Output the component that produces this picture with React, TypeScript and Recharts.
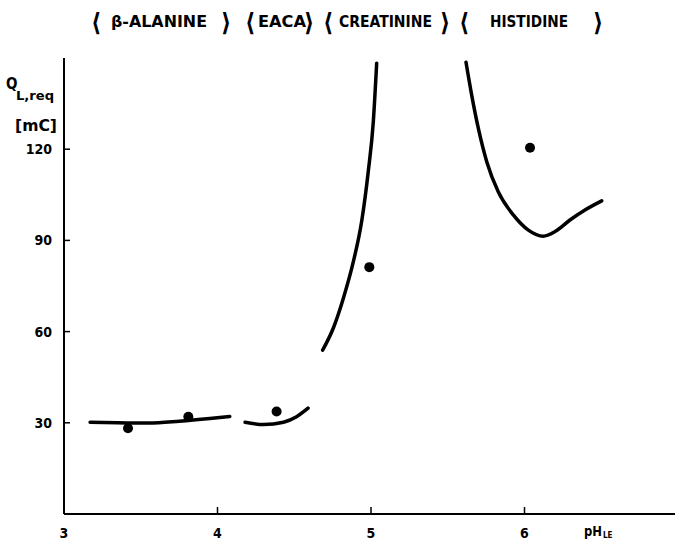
import { ComposedChart, Line, Scatter, XAxis, YAxis } from 'recharts'

const alanine = [
  { ph: 3.17, q: 30.2 },
  { ph: 3.35, q: 30.0 },
  { ph: 3.55, q: 29.9 },
  { ph: 3.75, q: 30.5 },
  { ph: 3.95, q: 31.4 },
  { ph: 4.08, q: 32.1 }
]

const eaca = [
  { ph: 4.18, q: 30.2 },
  { ph: 4.3, q: 29.4 },
  { ph: 4.43, q: 30.2 },
  { ph: 4.515, q: 32.0 },
  { ph: 4.59, q: 34.8 }
]

const creatinine = [
  { ph: 4.685, q: 53.9 },
  { ph: 4.754, q: 61.1 },
  { ph: 4.82, q: 71.0 },
  { ph: 4.885, q: 83.0 },
  { ph: 4.939, q: 96.2 },
  { ph: 4.982, q: 112.6 },
  { ph: 5.015, q: 129.0 },
  { ph: 5.037, q: 148.3 }
]

const histidine = [
  { ph: 5.619, q: 148.6 },
  { ph: 5.656, q: 137.8 },
  { ph: 5.699, q: 126.9 },
  { ph: 5.754, q: 115.9 },
  { ph: 5.829, q: 106.0 },
  { ph: 5.927, q: 98.4 },
  { ph: 6.025, q: 93.4 },
  { ph: 6.122, q: 91.4 },
  { ph: 6.199, q: 92.9 },
  { ph: 6.296, q: 96.7 },
  { ph: 6.394, q: 100.0 },
  { ph: 6.503, q: 103.0 }
]

const measured = [
  { ph: 3.417, q: 28.2 },
  { ph: 3.81, q: 32.0 },
  { ph: 4.385, q: 33.7 },
  { ph: 4.989, q: 81.2 },
  { ph: 6.036, q: 120.5 }
]

const xTicks = [3, 4, 5, 6]
const yTicks = [30, 60, 90, 120]

const font = '"DejaVu Sans Condensed", "DejaVu Sans", sans-serif'

const tickStyle = { fill: '#000', fontSize: 14, fontWeight: 'bold', fontFamily: font }

const curve = (data: { ph: number; q: number }[], key: string) => (
  <Line
    key={key}
    data={data}
    dataKey="q"
    type="monotone"
    stroke="#000"
    strokeWidth={3.5}
    dot={false}
    activeDot={false}
    isAnimationActive={false}
    strokeLinecap="round"
  />
)

function Dot(props: any) {
  return <circle cx={props.cx} cy={props.cy} r={5} fill="#000" />
}

function Bracket({ x, open }: { x: number; open: boolean }) {
  return (
    <text x={x} y={31} fontSize={25} fontWeight="bold">{open ? '⟨' : '⟩'}</text>
  )
}

export default function App() {
  return (
    <div style={{ position: 'absolute', left: 0, top: 0, width: 675, height: 541, overflow: 'hidden', background: '#fff' }}>
      <ComposedChart width={680} height={541} margin={{ top: 58, right: 2, bottom: 0, left: 0 }}>
        <XAxis
          type="number"
          dataKey="ph"
          domain={[3, 7]}
          ticks={xTicks}
          allowDataOverflow
          axisLine={{ stroke: '#000', strokeWidth: 2 }}
          tickLine={{ stroke: '#000', strokeWidth: 1.5 }}
          tickSize={-7}
          tickMargin={21}
          height={27}
          tick={tickStyle}
        />
        <YAxis
          type="number"
          dataKey="q"
          domain={[0, 150]}
          ticks={yTicks}
          allowDataOverflow
          axisLine={{ stroke: '#000', strokeWidth: 2 }}
          tickLine={{ stroke: '#000', strokeWidth: 1.5 }}
          tickSize={-6}
          tickMargin={18}
          width={64}
          tick={tickStyle}
        />
        {curve(alanine, 'ala')}
        {curve(eaca, 'eaca')}
        {curve(creatinine, 'crea')}
        {curve(histidine, 'his')}
        <Scatter data={measured} fill="#000" shape={<Dot />} isAnimationActive={false} />
      </ComposedChart>
      <svg width={675} height={541} style={{ position: 'absolute', left: 0, top: 0, pointerEvents: 'none' }}>
        <g fontFamily={font} fontWeight="bold" fill="#000">
          <Bracket x={91} open />
          <text x={111} y={27} fontSize={15} textLength={96} lengthAdjust="spacingAndGlyphs">β-ALANINE</text>
          <Bracket x={221} open={false} />
          <Bracket x={245} open />
          <text x={258} y={27} fontSize={15} textLength={48} lengthAdjust="spacingAndGlyphs">EACA</text>
          <Bracket x={304} open={false} />
          <Bracket x={323} open />
          <text x={339} y={27} fontSize={15} textLength={93} lengthAdjust="spacingAndGlyphs">CREATININE</text>
          <Bracket x={440} open={false} />
          <Bracket x={459} open />
          <text x={490} y={27} fontSize={15} textLength={78} lengthAdjust="spacingAndGlyphs">HISTIDINE</text>
          <Bracket x={593} open={false} />

          <text x={6} y={89} fontSize={15}>Q</text>
          <text x={16} y={100} fontSize={12} textLength={38} lengthAdjust="spacingAndGlyphs">L,req</text>
          <text x={15} y={131} fontSize={15} textLength={42} lengthAdjust="spacingAndGlyphs">[mC]</text>

          <text x={584} y={536} fontSize={14} textLength={18} lengthAdjust="spacingAndGlyphs">pH</text>
          <text x={603} y={538} fontSize={8}>LE</text>
        </g>
      </svg>
    </div>
  )
}
